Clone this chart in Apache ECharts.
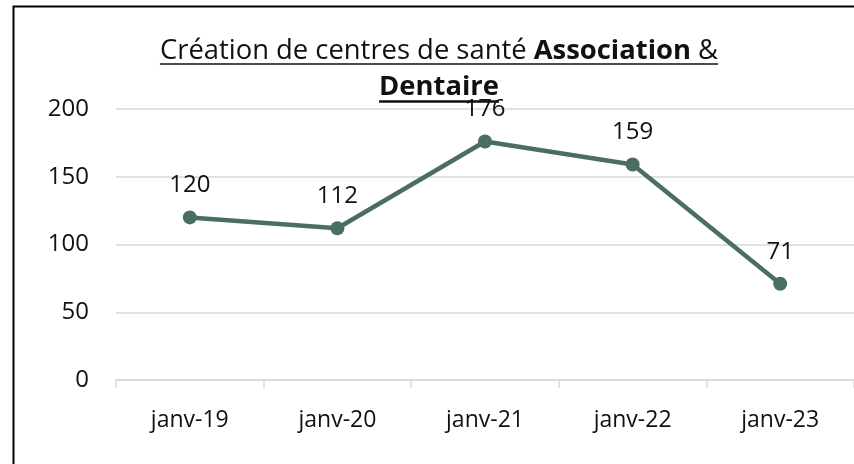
<!DOCTYPE html>
<html>
<head>
<meta charset="utf-8">
<script src="https://cdn.jsdelivr.net/npm/echarts@6/dist/echarts.min.js"></script>
<style>
  html, body { margin: 0; padding: 0; background: #fff; }
  #chart { width: 854px; height: 464px; }
</style>
</head>
<body>
<div id="chart"></div>
<script>
// données du graphique
var categories = ['janv-19', 'janv-20', 'janv-21', 'janv-22', 'janv-23'];
var values = [120, 112, 176, 159, 71];
var titleLine1 = 'Création de centres de santé ';
var titleBold1 = 'Association';
var titleEnd1 = ' &';
var titleLine2 = 'Dentaire';

var fontFamily = '"Open Sans", "Noto Sans", sans-serif';
var lineColor = '#4a6e64';

// mesure du texte pour placer les soulignements
function measure(text, bold, size) {
    var ctx = document.createElement('canvas').getContext('2d');
    ctx.font = (bold ? 'bold ' : '') + size + 'px ' + fontFamily;
    return ctx.measureText(text).width;
}
function titleWidth(size) {
    return measure(titleLine1, false, size) + measure(titleBold1, true, size) + measure(titleEnd1, false, size);
}
// taille du titre ajustée pour occuper ~558px comme l'original
var titleSize = Math.round(20 * 558 / titleWidth(20) * 10) / 10;
var w1 = titleWidth(titleSize);
var w2 = measure(titleLine2, true, titleSize);
var cx = 439;

var myChart = echarts.init(document.getElementById('chart'));
var option = {
    animation: false,
    grid: {
        left: 116,
        right: -10,
        top: 109,
        bottom: 84
    },
    xAxis: {
        type: 'category',
        data: categories,
        axisLine: { lineStyle: { color: '#d9d9d9', width: 1.5 } },
        axisTick: { show: true, length: 8, lineStyle: { color: '#d9d9d9', width: 1.5 } },
        axisLabel: { color: '#111', fontSize: 23, fontFamily: fontFamily, margin: 29 }
    },
    yAxis: {
        type: 'value',
        min: 0,
        max: 200,
        interval: 50,
        axisLine: { show: false },
        axisTick: { show: false },
        axisLabel: { color: '#111', fontSize: 24, fontFamily: fontFamily, margin: 27 },
        splitLine: { lineStyle: { color: '#d9d9d9', width: 1.5 } }
    },
    series: [{
        type: 'line',
        data: values,
        symbol: 'circle',
        symbolSize: 14,
        lineStyle: { color: lineColor, width: 4.5 },
        itemStyle: { color: lineColor },
        label: {
            show: true,
            position: 'top',
            distance: 13,
            color: '#111',
            fontSize: 24,
            fontFamily: fontFamily
        }
    }],
    graphic: [
        {
            type: 'rect',
            shape: { x: 13.5, y: 6.5, width: 900, height: 500 },
            style: { fill: 'none', stroke: '#000', lineWidth: 2 },
            silent: true
        },
        {
            type: 'text',
            x: cx,
            y: 51,
            style: {
                text: '{n|' + titleLine1 + '}{b|' + titleBold1 + '}{n|' + titleEnd1 + '}',
                align: 'center',
                verticalAlign: 'middle',
                rich: {
                    n: { fontSize: titleSize, fontFamily: fontFamily, fill: '#111' },
                    b: { fontSize: titleSize, fontFamily: fontFamily, fontWeight: 'bold', fill: '#111' }
                }
            }
        },
        {
            type: 'text',
            x: cx,
            y: 87,
            style: {
                text: titleLine2,
                align: 'center',
                verticalAlign: 'middle',
                fontSize: titleSize,
                fontFamily: fontFamily,
                fontWeight: 'bold',
                fill: '#111'
            }
        },
        {
            type: 'line',
            shape: { x1: cx - w1 / 2, y1: 64, x2: cx + w1 / 2, y2: 64 },
            style: { stroke: '#111', lineWidth: 1.5 }
        },
        {
            type: 'line',
            shape: { x1: cx - w2 / 2, y1: 101.5, x2: cx + w2 / 2, y2: 101.5 },
            style: { stroke: '#111', lineWidth: 2.5 }
        }
    ]
};
myChart.setOption(option);
</script>
</body>
</html>
